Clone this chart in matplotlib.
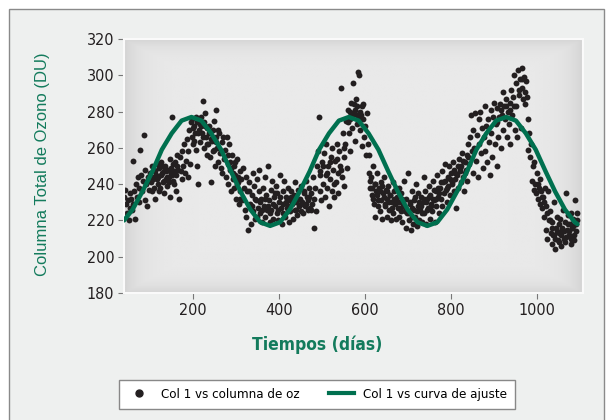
import matplotlib
matplotlib.use('Agg')
import matplotlib.pyplot as plt
import numpy as np
from matplotlib.patches import Rectangle
from matplotlib.lines import Line2D
from matplotlib import font_manager

# Datos medidos: dia y columna total de ozono (DU)
dias = [
    41, 43, 45, 47, 49, 51, 53, 55, 57, 59,
    61, 62, 64, 66, 68, 70, 72, 74, 76, 78,
    80, 82, 84, 86, 88, 90, 92, 94, 96, 98,
    100, 102, 104, 106, 108, 110, 112, 114, 116, 118,
    120, 122, 124, 126, 128, 130, 132, 134, 136, 138,
    140, 142, 144, 146, 148, 150, 151, 153, 155, 157,
    158, 160, 162, 164, 166, 168, 170, 172, 174, 176,
    178, 180, 182, 184, 186, 188, 190, 192, 194, 196,
    198, 199, 201, 203, 205, 207, 209, 211, 213, 215,
    217, 219, 221, 223, 225, 226, 228, 230, 232, 234,
    236, 238, 240, 241, 243, 245, 247, 249, 251, 253,
    255, 257, 259, 261, 263, 265, 267, 269, 271, 273,
    275, 277, 279, 281, 283, 285, 287, 289, 291, 293,
    295, 297, 299, 301, 303, 305, 307, 309, 311, 313,
    315, 317, 319, 321, 323, 325, 327, 329, 331, 333,
    335, 337, 339, 341, 343, 345, 347, 349, 351, 353,
    355, 357, 359, 361, 363, 365, 367, 369, 371, 373,
    375, 377, 379, 381, 383, 385, 387, 389, 391, 393,
    395, 397, 399, 401, 403, 405, 407, 409, 411, 413,
    415, 417, 419, 421, 423, 425, 427, 429, 431, 433,
    435, 437, 439, 441, 443, 445, 447, 449, 451, 453,
    455, 457, 459, 461, 463, 465, 467, 469, 471, 473,
    475, 477, 479, 481, 483, 485, 487, 489, 491, 493,
    495, 497, 499, 501, 503, 505, 507, 509, 511, 513,
    515, 517, 519, 521, 523, 525, 527, 529, 531, 533,
    535, 537, 539, 541, 543, 545, 547, 549, 551, 553,
    555, 557, 559, 561, 563, 565, 567, 569, 571, 573,
    575, 577, 579, 581, 583, 585, 587, 589, 591, 593,
    595, 597, 599, 601, 603, 605, 607, 609, 611, 613,
    615, 617, 619, 621, 623, 625, 627, 629, 631, 633,
    635, 637, 639, 641, 643, 645, 647, 649, 651, 653,
    655, 657, 659, 661, 663, 665, 667, 669, 671, 673,
    675, 677, 679, 681, 683, 685, 687, 689, 691, 693,
    695, 697, 699, 701, 703, 705, 707, 709, 711, 713,
    715, 717, 719, 721, 723, 725, 727, 729, 731, 733,
    735, 737, 739, 741, 743, 745, 747, 749, 751, 753,
    755, 757, 759, 761, 763, 765, 767, 769, 771, 773,
    775, 777, 779, 781, 783, 785, 787, 789, 791, 793,
    795, 797, 799, 801, 803, 805, 807, 809, 811, 813,
    815, 817, 819, 821, 823, 825, 827, 829, 831, 833,
    835, 837, 839, 841, 843, 845, 847, 849, 851, 853,
    855, 857, 859, 861, 863, 865, 867, 869, 871, 873,
    875, 877, 879, 881, 883, 885, 887, 889, 891, 893,
    895, 897, 899, 901, 903, 905, 907, 909, 911, 913,
    915, 917, 919, 921, 923, 925, 927, 929, 931, 933,
    935, 937, 939, 941, 943, 945, 947, 949, 951, 953,
    955, 957, 959, 961, 963, 965, 967, 969, 971, 973,
    975, 977, 979, 981, 983, 985, 987, 989, 991, 993,
    995, 997, 999, 1001, 1003, 1005, 1007, 1009, 1011, 1013,
    1015, 1017, 1019, 1021, 1023, 1025, 1027, 1029, 1031, 1033,
    1035, 1037, 1039, 1041, 1043, 1045, 1047, 1049, 1051, 1053,
    1055, 1057, 1059, 1061, 1063, 1065, 1067, 1069, 1071, 1073,
    1075, 1077, 1079, 1081, 1083, 1085, 1087, 1089, 1091, 1093,
]
ozono = [
    233, 237, 229, 224, 231, 220, 235, 227, 232, 226,
    229, 253, 236, 221, 240, 233, 244, 238, 230, 259,
    245, 236, 242, 267, 231, 248, 240, 228, 244, 237,
    246, 241, 250, 236, 243, 248, 232, 245, 251, 240,
    244, 249, 238, 252, 246, 241, 247, 235, 250, 243,
    239, 248, 244, 254, 233, 246, 277, 242, 251, 240,
    252, 245, 236, 256, 248, 232, 255, 247, 243, 258,
    250, 262, 246, 253, 265, 244, 258, 270, 251, 274,
    266, 276, 262, 272, 268, 259, 274, 250, 240, 270,
    263, 277, 268, 286, 274, 260, 279, 266, 256, 271,
    262, 272, 255, 268, 241, 264, 258, 275, 250, 266,
    281, 260, 252, 268, 257, 249, 263, 246, 266, 254,
    259, 244, 266, 251, 240, 262, 248, 236, 256, 243,
    250, 238, 245, 232, 254, 241, 229, 247, 236, 243,
    231, 249, 238, 226, 244, 222, 236, 215, 241, 229,
    218, 234, 246, 225, 239, 221, 231, 243, 227, 236,
    248, 224, 232, 219, 238, 228, 244, 222, 234, 226,
    250, 231, 219, 237, 226, 242, 221, 233, 228, 239,
    224, 235, 220, 230, 245, 227, 218, 236, 229, 242,
    222, 233, 227, 238, 219, 231, 225, 236, 229, 221,
    234, 226, 241, 230, 223, 237, 228, 232, 225, 239,
    230, 224, 236, 228, 242, 233, 226, 231, 238, 227,
    235, 229, 244, 232, 216, 238, 225, 250, 258, 277,
    236, 247, 231, 252, 240, 257, 233, 245, 262, 238,
    250, 228, 243, 255, 236, 260, 248, 233, 253, 241,
    262, 246, 235, 258, 250, 293, 244, 268, 255, 239,
    262, 275, 249, 281, 268, 276, 258, 285, 271, 296,
    279, 264, 287, 273, 283, 302, 300, 270, 278, 261,
    276, 284, 266, 272, 256, 279, 262, 246, 256, 238,
    244, 234, 250, 229, 240, 222, 236, 246, 228, 238,
    225, 241, 231, 221, 235, 244, 228, 237, 222, 232,
    239, 226, 234, 220, 230, 241, 224, 236, 229, 221,
    233, 227, 238, 222, 230, 235, 219, 228, 242, 225,
    216, 232, 224, 246, 220, 230, 215, 236, 227, 218,
    231, 222, 240, 217, 228, 235, 220, 226, 233, 219,
    230, 244, 224, 236, 218, 232, 227, 239, 221, 234,
    229, 225, 242, 231, 219, 236, 228, 245, 233, 224,
    238, 232, 247, 228, 241, 235, 251, 237, 230, 244,
    239, 250, 234, 246, 241, 252, 236, 248, 243, 227,
    245, 238, 254, 247, 241, 250, 257, 244, 236, 252,
    248, 256, 242, 262, 251, 266, 278, 258, 246, 270,
    260, 279, 253, 267, 244, 276, 262, 280, 257, 271,
    249, 266, 283, 258, 272, 252, 276, 263, 245, 281,
    268, 255, 277, 285, 262, 273, 250, 282, 266, 277,
    284, 260, 278, 291, 270, 283, 276, 287, 266, 280,
    273, 285, 262, 292, 278, 288, 300, 270, 283, 296,
    266, 303, 289, 298, 271, 293, 304, 287, 299, 284,
    297, 288, 276, 259, 268, 255, 262, 242, 250, 237,
    252, 240, 235, 246, 232, 238, 229, 243, 236, 227,
    233, 222, 238, 215, 228, 210, 236, 220, 225, 213,
    207, 219, 212, 230, 204, 216, 222, 209, 218, 213,
    221, 206, 214, 226, 210, 219, 208, 235, 215, 223,
    212, 218, 207, 224, 216, 221, 209, 231, 214, 220,
]

# Puntos adicionales en las zonas mas densas
dias_extra = [
    105, 109, 113, 117, 121, 125, 129, 133, 137, 141, 145, 149, 152, 156, 163,
    200, 204, 208, 212, 216, 220, 224, 229, 233, 237, 242, 246, 250, 254, 258,
    282, 286, 290, 294, 298, 302, 306, 310,
    332, 338, 344, 350, 356, 362, 368, 374, 380, 386, 392, 398, 404,
    410, 416, 422, 428, 434, 440, 446, 452, 458, 464, 470, 476,
    496, 504, 512, 520, 528, 536, 544, 552,
    562, 566, 570, 574, 578, 582, 586, 590, 594,
    612, 616, 620, 624, 628, 632, 636, 640, 644, 648, 652,
    656, 660, 664, 668, 672, 676, 680, 684, 688, 692,
    702, 706, 710, 714, 718, 722, 726, 730, 734, 738,
    742, 746, 750, 754, 758, 762, 766, 770, 774, 778,
    786, 792, 798, 804, 810, 816, 822, 828, 834, 840,
    908, 918, 928, 938, 948, 958, 966, 972,
    1003, 1009, 1013, 1018, 1024, 1032, 1036, 1040, 1044, 1048, 1052,
    1056, 1060, 1064, 1068, 1072, 1076, 1080, 1084, 1088, 1092, 1094,
]
ozono_extra = [
    244, 238, 247, 243, 236, 245, 250, 242, 247, 244, 241, 249, 245, 247, 250,
    271, 264, 277, 268, 273, 272, 266, 272, 262, 268, 265, 270, 259, 263, 270,
    256, 252, 249, 246, 252, 240, 244, 232,
    236, 228, 232, 222, 230, 226, 232, 228, 224, 229, 235, 226, 233,
    224, 230, 228, 233, 230, 226, 232, 229, 235, 229, 233, 226,
    245, 250, 246, 252, 240, 254, 248, 260,
    274, 280, 278, 284, 281, 278, 276, 280, 283,
    242, 238, 232, 240, 234, 231, 236, 239, 233, 229, 236,
    230, 234, 227, 232, 238, 230, 227, 225, 232, 228,
    224, 229, 222, 226, 233, 225, 230, 228, 224, 232,
    230, 226, 233, 228, 232, 237, 232, 238, 235, 241,
    242, 238, 243, 240, 246, 250, 249, 253, 246, 255,
    274, 281, 283, 281, 283, 292, 298, 291,
    240, 237, 233, 230, 224, 220, 216, 212, 210, 214, 208,
    212, 216, 214, 211, 218, 214, 210, 217, 212, 218, 224,
]

# Curva de ajuste
dias_ajuste = [40, 60, 83, 106, 128, 151, 174, 197, 220, 243, 266, 289, 311,
               334, 357, 380, 403, 426, 449, 472, 494, 517, 540, 563, 586,
               609, 632, 655, 677, 700, 723, 746, 769, 792, 815, 838, 860,
               883, 906, 929, 952, 975, 998, 1021, 1043, 1066, 1089, 1095]
ozono_ajuste = [220, 226, 236, 247, 259, 268, 275, 277, 275, 268, 259, 247,
                236, 226, 219, 217, 219, 226, 236, 247, 259, 268, 275, 277,
                275, 268, 259, 247, 236, 226, 219, 217, 219, 226, 236, 247,
                259, 268, 275, 277, 275, 268, 259, 247, 236, 226, 219, 218]

verde = '#00704f'
verde_txt = '#137b5c'


def fuente_estrecha(bold):
    # busca una variante condensada (normal o negrita), sin cursiva
    for f in font_manager.fontManager.ttflist:
        if f.name not in ('DejaVu Sans', 'Liberation Sans Narrow'):
            continue
        if f.style != 'normal':
            continue
        estrecha = f.stretch in ('condensed', 'semi-condensed') or 'Narrow' in f.name
        w = f.weight if isinstance(f.weight, int) else (700 if f.weight == 'bold' else 400)
        if estrecha and ((w >= 600) == bold):
            return f.fname
    return None


f_reg = fuente_estrecha(False)
f_bold = fuente_estrecha(True)
if f_reg:
    fp_tick = font_manager.FontProperties(fname=f_reg, size=11.5)
    fp_leg = font_manager.FontProperties(fname=f_reg, size=9.5)
else:
    fp_tick = font_manager.FontProperties(family='Liberation Sans', size=10.5)
    fp_leg = font_manager.FontProperties(family='Liberation Sans', size=8.5)
if f_bold:
    fp_xlab = font_manager.FontProperties(fname=f_bold, size=12.5)
else:
    fp_xlab = font_manager.FontProperties(family='Liberation Sans', size=12, weight='bold')

fig = plt.figure(figsize=(6.08, 4.2), dpi=100)
fig.patch.set_facecolor('white')
fig.patches.append(Rectangle((8.5 / 608, -0.05), (604 - 8.5) / 608, 1.05 - 9.5 / 420,
                             transform=fig.transFigure, facecolor='#eef0ef',
                             edgecolor='#8a8a8a', linewidth=1.0, zorder=-10))

ax = fig.add_axes([124 / 608, 1 - 293 / 420, (583 - 124) / 608, (293 - 39) / 420])

# fondo gris con bordes oscurecidos
n = 120
u = np.linspace(0, 1, n)
d = np.minimum.outer(np.minimum(u, 1 - u), np.minimum(u, 1 - u))
grad = 0.915 - 0.08 * np.exp(-d / 0.035)
ax.imshow(grad, cmap='gray', vmin=0, vmax=1, extent=[0, 1, 0, 1],
          transform=ax.transAxes, aspect='auto', zorder=0, interpolation='bilinear')

ax.scatter(dias, ozono, s=18, color='#231f20', linewidths=0, zorder=2)
ax.scatter(dias_extra, ozono_extra, s=18, color='#231f20', linewidths=0, zorder=2)
ax.plot(dias_ajuste, ozono_ajuste, color=verde, linewidth=3.2, zorder=3,
        solid_capstyle='round')

ax.set_xlim(40, 1108)
ax.set_ylim(180, 320)
ax.set_xticks([200, 400, 600, 800, 1000])
ax.set_yticks([180, 200, 220, 240, 260, 280, 300, 320])
for s in ax.spines.values():
    s.set_color('#fafafa')
    s.set_linewidth(1.5)
ax.tick_params(direction='out', length=4, width=0.8, color='#777777',
               labelcolor='#231f20', pad=3)
for lab in ax.get_xticklabels() + ax.get_yticklabels():
    lab.set_fontproperties(fp_tick)

fig.text(317 / 608, 1 - 345 / 420, 'Tiempos (días)', ha='center', va='center',
         color=verde_txt, fontproperties=fp_xlab)
fig.text(42 / 608, 1 - 164 / 420, 'Columna Total de Ozono (DU)', ha='center',
         va='center', rotation=90, color=verde_txt, fontsize=12,
         family=['Liberation Sans', 'DejaVu Sans'])

handles = [Line2D([], [], marker='o', linestyle='none', color='#231f20', markersize=5),
           Line2D([], [], color=verde, linewidth=3)]
leg = fig.legend(handles, ['Col 1 vs columna de oz', 'Col 1 vs curva de ajuste'],
                 loc='center', bbox_to_anchor=(317 / 608, 1 - 394.5 / 420), ncol=2,
                 frameon=True, fancybox=False, handlelength=1.9, columnspacing=2.2,
                 handletextpad=0.7, borderpad=0.6, borderaxespad=0, prop=fp_leg)
leg.get_frame().set_edgecolor('#888888')
leg.get_frame().set_linewidth(1.0)
leg.get_frame().set_facecolor('white')
leg.get_frame().set_alpha(1)

fig.savefig('out.png', dpi=100)
